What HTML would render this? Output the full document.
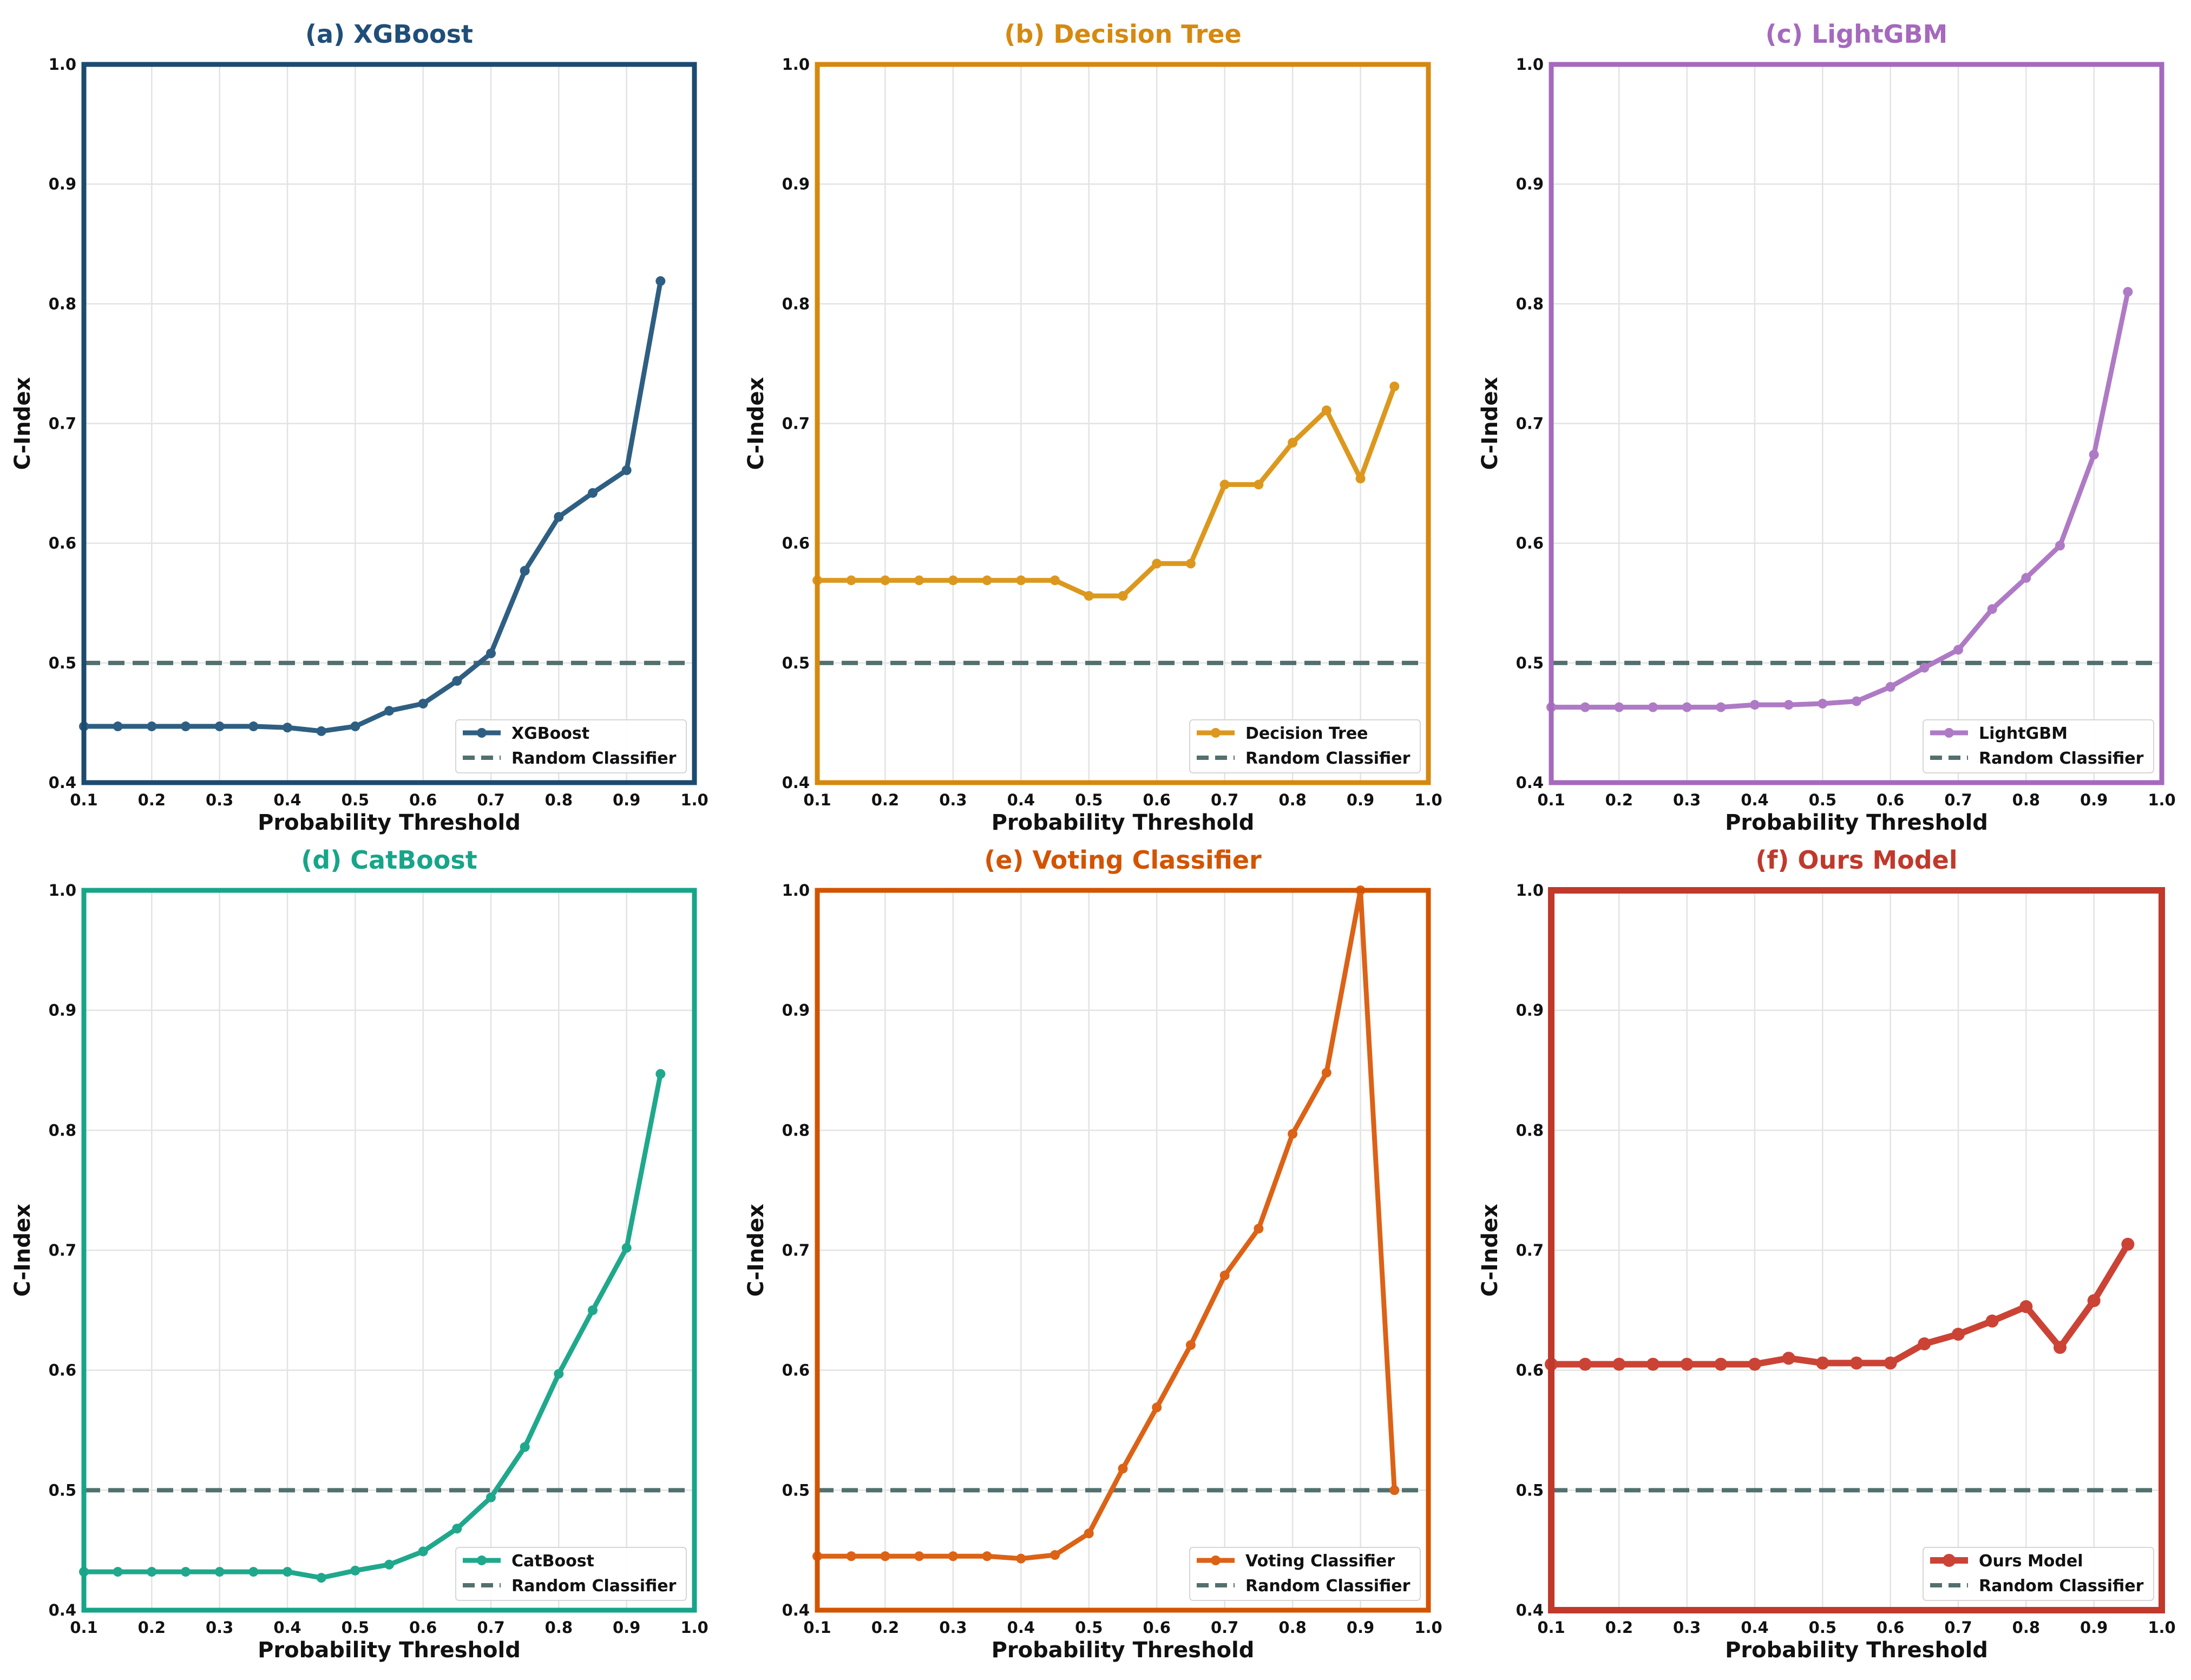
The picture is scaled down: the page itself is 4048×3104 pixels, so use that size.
<!DOCTYPE html>
<html><head><meta charset="utf-8"><style>
html,body{margin:0;padding:0;background:#fff;}
svg{display:block;font-family:"DejaVu Sans","Liberation Sans",sans-serif;font-weight:bold;}
</style></head><body>
<svg id="fig" width="4048" height="3104" viewBox="0 0 4048 3104" xmlns="http://www.w3.org/2000/svg"></svg>
<script>
const thresholds=[0.1,0.15,0.2,0.25,0.3,0.35,0.4,0.45,0.5,0.55,0.6,0.65,0.7,0.75,0.8,0.85,0.9,0.95];
const xgboostVals=[.447,.447,.447,.447,.447,.447,.446,.443,.447,.460,.466,.485,.508,.577,.622,.642,.661,.819];
const treeVals=[.569,.569,.569,.569,.569,.569,.569,.569,.556,.556,.583,.583,.649,.649,.684,.711,.654,.731];
const lgbmVals=[.463,.463,.463,.463,.463,.463,.465,.465,.466,.468,.480,.496,.511,.545,.571,.598,.674,.810];
const catVals=[.432,.432,.432,.432,.432,.432,.432,.427,.433,.438,.449,.468,.494,.536,.597,.650,.702,.847];
const votingVals=[.445,.445,.445,.445,.445,.445,.443,.446,.464,.518,.569,.621,.679,.718,.797,.848,1.0,.500];
const oursVals=[.605,.605,.605,.605,.605,.605,.605,.610,.606,.606,.606,.622,.630,.641,.653,.619,.658,.705];
const xTicks=[0.1,0.2,0.3,0.4,0.5,0.6,0.7,0.8,0.9,1.0];
const yTicks=[0.4,0.5,0.6,0.7,0.8,0.9,1.0];
const randomBaseline=0.5;
const panelNames=["(a) XGBoost","(b) Decision Tree","(c) LightGBM","(d) CatBoost","(e) Voting Classifier","(f) Ours Model"];
const legendNames=["XGBoost","Decision Tree","LightGBM","CatBoost","Voting Classifier","Ours Model"];
const seriesList=[xgboostVals,treeVals,lgbmVals,catVals,votingVals,oursVals];

const NS="http://www.w3.org/2000/svg";
const svg=document.getElementById('fig');
const colors=[{t:"#1f4e79",l:"#2e5f82",b:"#1d4a6f"},{t:"#d68910",l:"#dc981e",b:"#d68910"},{t:"#a569bd",l:"#af7ac5",b:"#a569bd"},{t:"#17a589",l:"#1fa88c",b:"#17a589"},{t:"#d35400",l:"#dc6216",b:"#d35400"},{t:"#c0392b",l:"#cb4335",b:"#c0392b"}];
const cols=[[155,1283],[1510,2639],[2866,3994]];
const rows=[[119,1446],[1645,2975]];
function el(tag,attrs,parent){const e=document.createElementNS(NS,tag);for(const k in attrs)e.setAttribute(k,attrs[k]);(parent||svg).appendChild(e);return e;}

for(let p=0;p<6;p++){
  const [L,R]=cols[p%3];const [T,B]=rows[Math.floor(p/3)];
  const sx=v=>L+(v-0.1)/0.9*(R-L);
  const sy=v=>B-(v-0.4)/0.6*(B-T);
  const c=colors[p];const ours=p===5;
  const g=el('g',{});
  
  
  xTicks.forEach(t=>{el('line',{x1:sx(t),x2:sx(t),y1:T,y2:B,stroke:'#e3e3e3','stroke-width':2.5},g);
    const tx=el('text',{x:sx(t),y:B+42,'text-anchor':'middle','font-size':29,fill:'#111'},g);tx.textContent=t.toFixed(1);
    });
  yTicks.forEach(t=>{el('line',{x1:L,x2:R,y1:sy(t),y2:sy(t),stroke:'#e3e3e3','stroke-width':2.5},g);
    const ty=el('text',{x:L-14,y:sy(t)+10,'text-anchor':'end','font-size':29,fill:'#111'},g);ty.textContent=t.toFixed(1);
    });
  const base=el('line',{x1:L,x2:R,y1:sy(randomBaseline),y2:sy(randomBaseline),stroke:'#52706e','stroke-width':8,'stroke-dasharray':'30 15'},g);
  
  const vals=seriesList[p];
  const pts=thresholds.map((x,i)=>sx(x)+','+sy(vals[i])).join(' ');
  const pl=el('polyline',{points:pts,fill:'none',stroke:c.l,'stroke-width':ours?12:9,'stroke-linejoin':'round'},g);
  
  thresholds.forEach((x,i)=>{const m=el('circle',{cx:sx(x),cy:sy(vals[i]),r:ours?12:9,fill:c.l},g);
    });
  const fr=el('rect',{x:L,y:T,width:R-L,height:B-T,fill:'none',stroke:c.b,'stroke-width':ours?12:9},g);
  
  const ti=el('text',{x:(L+R)/2,y:T-40,'text-anchor':'middle','font-size':46,fill:c.t},g);ti.textContent=panelNames[p];
  
  const xl=el('text',{x:(L+R)/2,y:B+87,'text-anchor':'middle','font-size':40,fill:'#111'},g);xl.textContent='Probability Threshold';
  
  const yx=L-100,yy=(T+B)/2;
  const yl=el('text',{x:yx,y:yy,'text-anchor':'middle','font-size':40,fill:'#111',transform:`rotate(-90 ${yx} ${yy})`},g);yl.textContent='C-Index';
  
  const lg=el('g',{},g);
  
  const lx=R-441,ly=B-116;
  el('rect',{x:lx,y:ly,width:426,height:98,rx:6,fill:'#fff','fill-opacity':0.9,stroke:'#d6d6d6','stroke-width':2},lg);
  el('line',{x1:lx+13,x2:lx+83,y1:ly+24,y2:ly+24,stroke:c.l,'stroke-width':ours?12:9},lg);
  el('circle',{cx:lx+48,cy:ly+24,r:ours?12:9,fill:c.l},lg);
  const t1=el('text',{x:lx+103,y:ly+35,'font-size':30,fill:'#111'},lg);t1.textContent=legendNames[p];
  
  el('line',{x1:lx+13,x2:lx+83,y1:ly+70,y2:ly+70,stroke:'#52706e','stroke-width':8,'stroke-dasharray':'22 12'},lg);
  const t2=el('text',{x:lx+103,y:ly+81,'font-size':30,fill:'#111'},lg);t2.textContent='Random Classifier';
  
}
</script>
</body></html>
